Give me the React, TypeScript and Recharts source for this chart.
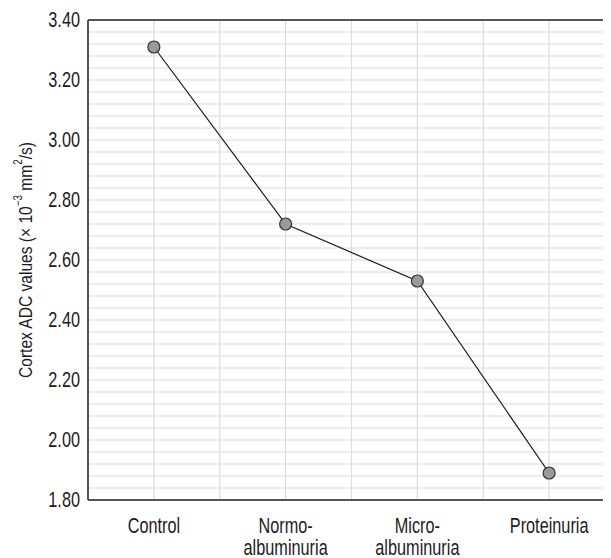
import React from "react";
import {
  LineChart,
  Line,
  XAxis,
  YAxis,
  CartesianGrid,
  ReferenceLine,
} from "recharts";

const categories = ["Control", "Normo-\nalbuminuria", "Micro-\nalbuminuria", "Proteinuria"];
const adcValues = [3.31, 2.72, 2.53, 1.89];
const yTicks = [1.8, 2.0, 2.2, 2.4, 2.6, 2.8, 3.0, 3.2, 3.4];
const yMinorTicks = [
  1.8, 1.84, 1.88, 1.92, 1.96, 2.0, 2.04, 2.08, 2.12, 2.16, 2.2, 2.24, 2.28, 2.32, 2.36,
  2.4, 2.44, 2.48, 2.52, 2.56, 2.6, 2.64, 2.68, 2.72, 2.76, 2.8, 2.84, 2.88, 2.92, 2.96,
  3.0, 3.04, 3.08, 3.12, 3.16, 3.2, 3.24, 3.28, 3.32, 3.36, 3.4,
];
const Y_MIN = 1.8;
const Y_MAX = 3.4;

const data = categories.map((name, i) => ({ name, value: adcValues[i] }));

const FONT = "'Liberation Sans', Arial, sans-serif";
const TEXT = "#1f1b1c";
const AXIS = "#555555";
const NARROW = 0.74;
const TICK_SIZE = 22;

const XTick = (props: any) => {
  const { x, y, payload } = props;
  const lines = String(payload.value).split("\n");
  return (
    <g transform={`translate(${x},${y}) scale(${NARROW},1)`}>
      <text x={0} y={0} textAnchor="middle" fontFamily={FONT} fontSize={TICK_SIZE} fill={TEXT}>
        {lines.map((l, i) => (
          <tspan key={i} x={0} dy={i === 0 ? 13 : 22}>
            {l}
          </tspan>
        ))}
      </text>
    </g>
  );
};

const YTick = (props: any) => {
  const { x, y, payload } = props;
  return (
    <g transform={`translate(${x},${y}) scale(${NARROW},1)`}>
      <text x={0} y={0} dy="0.32em" textAnchor="end" fontFamily={FONT} fontSize={TICK_SIZE} fill={TEXT}>
        {Number(payload.value).toFixed(2)}
      </text>
    </g>
  );
};

const YLabel = (props: any) => {
  const vb = props.viewBox || {};
  const x = (vb.x ?? 0) + 17;
  const y = (vb.y ?? 0) + (vb.height ?? 0) / 2;
  return (
    <g transform={`translate(${x},${y}) rotate(-90) scale(0.82,1)`}>
      <text
        x={0}
        y={0}
        textAnchor="middle"
        dominantBaseline="central"
        fontFamily={FONT}
        fontSize={19}
        fill={TEXT}
      >
        Cortex ADC values (× 10
        <tspan dy={-7} fontSize={12}>−3</tspan>
        <tspan dy={7}> mm</tspan>
        <tspan dy={-7} fontSize={12}>2</tspan>
        <tspan dy={7}>/s)</tspan>
      </text>
    </g>
  );
};

const hGen = (p: any) => {
  const s = p?.yAxis?.scale;
  const o = p.offset;
  return yMinorTicks.map((v) =>
    typeof s === "function" ? s(v) : o.top + (o.height * (Y_MAX - v)) / (Y_MAX - Y_MIN)
  );
};

const vGen = (p: any) => {
  const o = p.offset;
  const n = categories.length;
  const step = o.width / n;
  const out: number[] = [];
  for (let i = 0; i <= n * 2; i++) out.push(o.left + (step * i) / 2);
  return out;
};

export default function App() {
  return (
    <div style={{ width: 603, height: 550, overflow: "hidden" }}>
      <LineChart
        width={620}
        height={550}
        data={data}
        margin={{ top: 12, right: 13, bottom: 0, left: 0 }}
      >
        <CartesianGrid
          stroke="#dcdcdc"
          strokeWidth={1.2}
          horizontalCoordinatesGenerator={hGen}
          verticalCoordinatesGenerator={vGen}
        />
        <XAxis
          dataKey="name"
          scale="band"
          interval={0}
          height={58}
          axisLine={{ stroke: AXIS, strokeWidth: 2 }}
          tickLine={false}
          tickSize={10}
          tickMargin={10}
          tick={<XTick />}
        />
        <YAxis
          type="number"
          domain={[Y_MIN, Y_MAX]}
          ticks={yTicks}
          width={80}
          interval={0}
          axisLine={{ stroke: AXIS, strokeWidth: 2 }}
          tickLine={false}
          tickSize={6}
          tickMargin={2}
          tick={<YTick />}
          label={<YLabel />}
        />
        <ReferenceLine y={Y_MAX} stroke={AXIS} strokeWidth={2} />
        <Line
          dataKey="value"
          stroke="#1a1a1a"
          strokeWidth={1.2}
          isAnimationActive={false}
          dot={{ r: 6, fill: "#9a9a9a", stroke: "#333333", strokeWidth: 1.2 }}
        />
      </LineChart>
    </div>
  );
}
